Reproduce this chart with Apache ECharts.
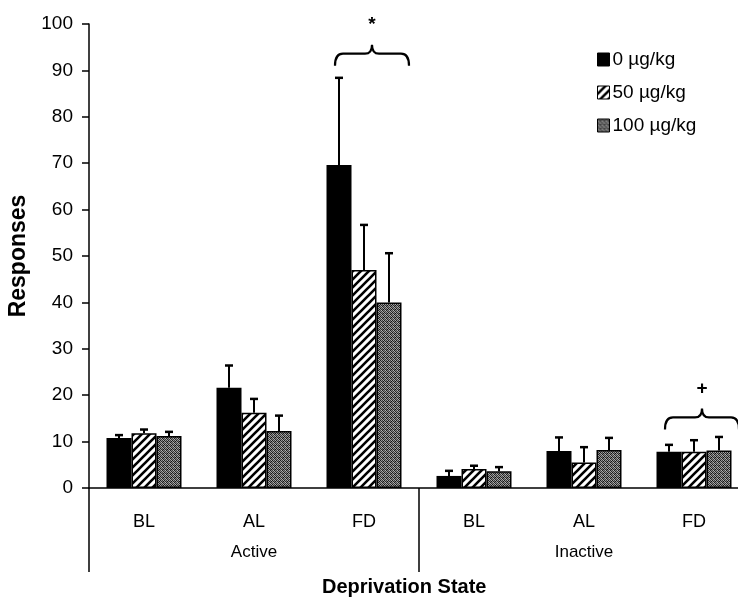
<!DOCTYPE html>
<html>
<head>
<meta charset="utf-8">
<script src="https://cdn.jsdelivr.net/npm/echarts@6/dist/echarts.min.js"></script>
<style>
html,body{margin:0;padding:0;background:#fff;}
#chart{width:738px;height:601px;}
</style>
</head>
<body>
<div id="chart"></div>
<script>
// data
var categories = ['BL', 'AL', 'FD', 'BL', 'AL', 'FD'];
var groups = ['Active', 'Inactive'];
var doses = ['0 µg/kg', '50 µg/kg', '100 µg/kg'];
var dose0 = [10.8, 21.6, 69.6, 2.6, 8.0, 7.8];
var dose50 = [11.8, 16.2, 47.0, 4.1, 5.5, 7.8];
var dose100 = [11.2, 12.3, 40.0, 3.6, 8.2, 8.1];
var err0 = [0.6, 4.8, 18.8, 1.1, 2.9, 1.5];
var err50 = [0.8, 3.0, 9.7, 0.7, 3.3, 2.5];
var err100 = [0.9, 3.3, 10.6, 0.9, 2.6, 2.9];
var braceCats = [2, 5];
var braceValues = [93.6, 15.2];
var braceMarks = ['*', '+'];

var FONT = 'Liberation Sans, Arial, sans-serif';
var BAR_W = 25;

function hatchPattern(){
	var c = document.createElement('canvas');
	c.width = 8; c.height = 8;
	var g = c.getContext('2d');
	g.fillStyle = '#fff';
	g.fillRect(0, 0, 8, 8);
	g.strokeStyle = '#000';
	g.lineWidth = 2.6;
	g.beginPath();
	g.moveTo(-2, 10); g.lineTo(10, -2);
	g.moveTo(-6, 6); g.lineTo(6, -6);
	g.moveTo(2, 14); g.lineTo(14, 2);
	g.stroke();
	return c;
}

function stipplePattern(){
	var c = document.createElement('canvas');
	c.width = 4; c.height = 4;
	var g = c.getContext('2d');
	var px = ['#1a1a1a', '#999', '#3a3a3a', '#aaa',
	          '#999', '#2a2a2a', '#777', '#111',
	          '#444', '#b5b5b5', '#1a1a1a', '#888',
	          '#888', '#3a3a3a', '#aaa', '#2a2a2a'];
	for (var i = 0; i < 16; i++) {
		g.fillStyle = px[i];
		g.fillRect(i % 4, Math.floor(i / 4), 1, 1);
	}
	return c;
}

var fills = ['#000', {image: hatchPattern(), repeat: 'repeat'}, {image: stipplePattern(), repeat: 'repeat'}];
var values = [dose0, dose50, dose100];
var errors = [err0, err50, err100];

function errorRender(k){
	return function(params, api){
		var x = api.value(0), v = api.value(1), e = api.value(2);
		var base = api.coord([x, v]);
		var top = api.coord([x, v + e]);
		var cx = base[0] + (k - 1) * BAR_W;
		return {
			type: 'group',
			children: [
				{type: 'line', shape: {x1: cx, y1: base[1], x2: cx, y2: top[1]}, style: {stroke: '#000', lineWidth: 2}},
				{type: 'line', shape: {x1: cx - 4, y1: top[1], x2: cx + 4, y2: top[1]}, style: {stroke: '#000', lineWidth: 2.5}}
			]
		};
	};
}

function braceRender(params, api){
	var p = api.coord([api.value(0), api.value(1)]);
	var xc = p[0] + 8, y = p[1];
	var x0 = xc - 37, x1 = xc + 37;
	var d = 'M' + x0 + ',' + (y + 12) +
		' Q' + x0 + ',' + y + ' ' + (x0 + 8) + ',' + y +
		' L' + (xc - 7) + ',' + y +
		' Q' + xc + ',' + y + ' ' + xc + ',' + (y - 9) +
		' Q' + xc + ',' + y + ' ' + (xc + 7) + ',' + y +
		' L' + (x1 - 8) + ',' + y +
		' Q' + x1 + ',' + y + ' ' + x1 + ',' + (y + 12);
	return {
		type: 'group',
		children: [
			{type: 'path', shape: {pathData: d}, style: {stroke: '#000', lineWidth: 2.2, fill: null}},
			{type: 'text', x: xc, y: y - 29, style: {text: braceMarks[params.dataIndex], font: 'bold 19px ' + FONT, fill: '#000', align: 'center', verticalAlign: 'middle'}}
		]
	};
}

var series = [];
for (var k = 0; k < 3; k++) {
	series.push({
		name: doses[k],
		type: 'bar',
		xAxisIndex: 0,
		barWidth: BAR_W,
		barGap: '0%',
		data: values[k],
		itemStyle: {color: fills[k], borderColor: '#000', borderWidth: k == 0 ? 0 : 1.5},
		z: 2
	});
}
for (var k = 0; k < 3; k++) {
	var ed = [];
	for (var i = 0; i < categories.length; i++) ed.push([i, values[k][i], errors[k][i]]);
	series.push({
		type: 'custom',
		xAxisIndex: 0,
		renderItem: errorRender(k),
		data: ed,
		z: 3,
		silent: true
	});
}
var bd = [];
for (var i = 0; i < braceCats.length; i++) bd.push([braceCats[i], braceValues[i]]);
series.push({type: 'custom', xAxisIndex: 0, renderItem: braceRender, data: bd, z: 4, silent: true, clip: false});

var chart = echarts.init(document.getElementById('chart'));
chart.setOption({
	backgroundColor: '#fff',
	animation: false,
	textStyle: {fontFamily: FONT},
	grid: {left: 89, top: 24, width: 660, height: 464, containLabel: false, outerBoundsMode: 'none'},
	legend: {
		data: doses,
		orient: 'vertical',
		left: 597,
		top: 50,
		padding: 0,
		itemWidth: 12,
		itemHeight: 13,
		itemGap: 14,
		itemStyle: {borderColor: '#000', borderWidth: 1},
		icon: 'rect',
		textStyle: {fontSize: 19, color: '#000', fontFamily: FONT, padding: [0, 0, 0, -2]}
	},
	xAxis: [{
		type: 'category',
		data: categories,
		axisLine: {lineStyle: {color: '#000', width: 1.5}},
		axisTick: {show: false},
		axisLabel: {color: '#000', fontSize: 18, margin: 25, fontFamily: FONT}
	}, {
		type: 'category',
		data: groups,
		position: 'bottom',
		axisLine: {show: false},
		axisTick: {show: true, length: 84, lineStyle: {color: '#000', width: 1.5}},
		axisLabel: {color: '#000', fontSize: 17, margin: 56, fontFamily: FONT}
	}],
	yAxis: {
		type: 'value',
		min: 0,
		max: 100,
		interval: 10,
		name: 'Responses',
		nameLocation: 'middle',
		nameGap: 52,
		nameTextStyle: {fontSize: 23, fontWeight: 'bold', color: '#000', fontFamily: FONT},
		axisLine: {show: true, lineStyle: {color: '#000', width: 1.5}},
		axisTick: {show: true, length: 7, lineStyle: {color: '#000', width: 1.5}},
		axisLabel: {color: '#000', fontSize: 19, margin: 16, fontFamily: FONT},
		splitLine: {show: false}
	},
	graphic: [{
		type: 'text',
		left: 322,
		top: 577,
		style: {text: 'Deprivation State', font: 'bold 20px ' + FONT, fill: '#000'}
	}],
	series: series
});
</script>
</body>
</html>
